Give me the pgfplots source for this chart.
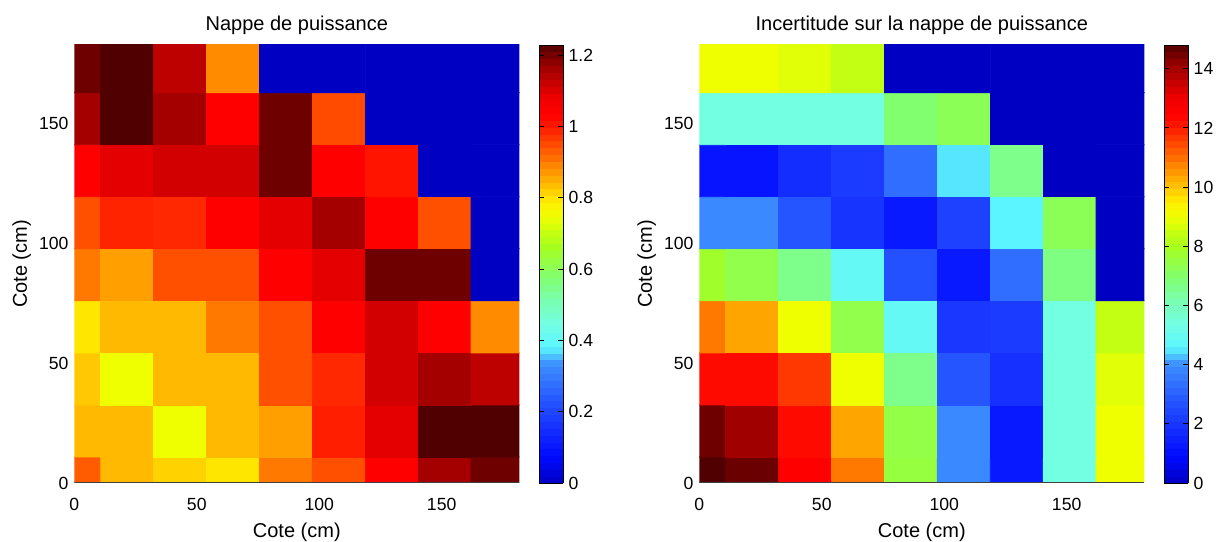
\documentclass[border=0pt]{standalone}
\usepackage{fontspec}
\setmainfont{Liberation Sans}
\usepackage{pgfplots}
\pgfplotsset{compat=1.18}
\usepackage{pgfplotstable}

\pgfplotstableread{
x y c
0 0 0.933
21.6 0 0.840
43.2 0 0.815
64.8 0 0.796
86.4 0 0.904
108 0 0.944
129.6 0 1.032
151.2 0 1.162
172.8 0 1.205
0 21.7 0.840
21.6 21.7 0.840
43.2 21.7 0.749
64.8 21.7 0.840
86.4 21.7 0.865
108 21.7 0.995
129.6 21.7 1.092
151.2 21.7 1.228
172.8 21.7 1.228
0 43.4 0.825
21.6 43.4 0.749
43.2 43.4 0.840
64.8 43.4 0.840
86.4 43.4 0.944
108 43.4 0.985
129.6 43.4 1.113
151.2 43.4 1.162
172.8 43.4 1.135
0 65.1 0.796
21.6 65.1 0.840
43.2 65.1 0.840
64.8 65.1 0.904
86.4 65.1 0.944
108 65.1 1.032
129.6 65.1 1.113
151.2 65.1 1.032
172.8 65.1 0.884
0 86.8 0.904
21.6 86.8 0.865
43.2 86.8 0.944
64.8 86.8 0.944
86.4 86.8 1.032
108 86.8 1.092
129.6 86.8 1.205
151.2 86.8 1.205
172.8 86.8 0
0 108.5 0.944
21.6 108.5 0.990
43.2 108.5 0.985
64.8 108.5 1.032
86.4 108.5 1.092
108 108.5 1.162
129.6 108.5 1.032
151.2 108.5 0.944
172.8 108.5 0
0 130.2 1.032
21.6 130.2 1.092
43.2 130.2 1.113
64.8 130.2 1.113
86.4 130.2 1.205
108 130.2 1.032
129.6 130.2 1.007
151.2 130.2 0
172.8 130.2 0
0 151.9 1.162
21.6 151.9 1.228
43.2 151.9 1.162
64.8 151.9 1.032
86.4 151.9 1.205
108 151.9 0.949
129.6 151.9 0
151.2 151.9 0
172.8 151.9 0
0 173.6 1.205
21.6 173.6 1.228
43.2 173.6 1.135
64.8 173.6 0.884
86.4 173.6 0
108 173.6 0
129.6 173.6 0
151.2 173.6 0
172.8 173.6 0
}\leftdata

\pgfplotstableread{
x y c
0 0 14.8
21.6 0 14.56
43.2 0 12.43
64.8 0 10.89
86.4 0 7.55
108 0 3.92
129.6 0 1.29
151.2 0 5.40
172.8 0 9.03
0 21.7 14.52
21.6 21.7 14.06
43.2 21.7 12.28
64.8 21.7 10.36
86.4 21.7 7.47
108 21.7 3.92
129.6 21.7 1.29
151.2 21.7 5.40
172.8 21.7 9.03
0 43.4 12.28
21.6 43.4 12.28
43.2 43.4 11.68
64.8 43.4 9.03
86.4 43.4 6.60
108 43.4 2.75
129.6 43.4 1.92
151.2 43.4 5.40
172.8 43.4 8.82
0 65.1 10.89
21.6 65.1 10.36
43.2 65.1 9.03
64.8 65.1 7.40
86.4 65.1 4.88
108 65.1 2.07
129.6 65.1 2.19
151.2 65.1 5.40
172.8 65.1 8.41
0 86.8 7.84
21.6 86.8 7.40
43.2 86.8 6.60
64.8 86.8 4.88
86.4 86.8 2.66
108 86.8 1.29
129.6 86.8 3.32
151.2 86.8 6.72
172.8 86.8 0
0 108.5 3.92
21.6 108.5 3.92
43.2 108.5 2.75
64.8 108.5 2.00
86.4 108.5 1.29
108 108.5 2.29
129.6 108.5 4.59
151.2 108.5 7.25
172.8 108.5 0
0 130.2 1.15
21.6 130.2 1.15
43.2 130.2 1.78
64.8 130.2 2.19
86.4 130.2 3.32
108 130.2 4.51
129.6 130.2 6.60
151.2 130.2 0
172.8 130.2 0
0 151.9 5.40
21.6 151.9 5.40
43.2 151.9 5.40
64.8 151.9 5.40
86.4 151.9 6.96
108 151.9 7.25
129.6 151.9 0
151.2 151.9 0
172.8 151.9 0
0 173.6 9.03
21.6 173.6 9.03
43.2 173.6 8.82
64.8 173.6 8.41
86.4 173.6 0
108 173.6 0
129.6 173.6 0
151.2 173.6 0
172.8 173.6 0
}\rightdata

\pgfplotsset{
  colormap={mlab}{rgb255(0pt)=(0,0,195) rgb255(6pt)=(0,10,255) rgb255(14pt)=(25,55,255) rgb255(27pt)=(60,140,255) rgb255(31pt)=(90,245,255) rgb255(36pt)=(115,255,230) rgb255(41pt)=(120,255,185) rgb255(47pt)=(130,255,110) rgb255(54pt)=(165,255,30) rgb255(61pt)=(240,255,0) rgb255(64pt)=(255,240,0) rgb255(68pt)=(255,190,0) rgb255(74pt)=(255,115,0) rgb255(81pt)=(255,30,0) rgb255(84pt)=(255,0,0) rgb255(88pt)=(240,0,0) rgb255(95pt)=(160,0,0) rgb255(100pt)=(80,0,0)},
  heat/.style={
    scale only axis, width=222.5bp, height=219bp, anchor=south west,
    xmin=0, xmax=181.7, ymin=0, ymax=182.6,
    xtick={0,50,100,150}, ytick={0,50,100,150},
    major tick length=0pt,
    axis line style={draw=none},
    /pgf/number format/assume math mode=true,
    tick label style={font=\fontsize{8.8bp}{10bp}\selectfont},
    xticklabel style={anchor=base, yshift=-13.5bp, inner sep=0pt},
    yticklabel style={anchor=east, inner sep=0pt, xshift=-2.7bp},
    xlabel={Cote (cm)}, ylabel={Cote (cm)},
    label style={font=\fontsize{10bp}{12bp}\selectfont, inner sep=0pt},
    xlabel style={at={(axis description cs:0.5,-0.1242)}, anchor=base},
    ylabel style={at={(axis description cs:-0.1065,0.5)}, anchor=base},
    every axis title shift=0pt,
    title style={at={(axis description cs:0.5,1.0342)}, anchor=base, inner sep=0pt, font=\fontsize{10bp}{12bp}\selectfont},
    colormap name=mlab,
    colorbar sampled,
  },
  cbar/.style={
    at={(parent axis.north east)}, anchor=north west, xshift=1.5bp,
    width=12bp, height=219bp, scale only axis,
    samples=65,
    ytick pos=both, yticklabel pos=right,
    tick align=inside, major tick length=2.5bp,
    tick style={black, line width=0.4pt},
    axis line style={black, line width=0.5pt},
    /pgf/number format/assume math mode=true,
    yticklabel style={anchor=west, inner sep=0pt, xshift=2.5bp, font=\fontsize{8.8bp}{10bp}\selectfont},
  },
}

\begin{document}
\begin{tikzpicture}
\useasboundingbox (0,0) rectangle (611.5bp,271bp);
\begin{axis}[heat, at={(37.15bp,29.5bp)},
  title={Nappe de puissance},
  point meta min=0, point meta max=1.228,
  colorbar style={cbar, ytick={0,0.2,0.4,0.6,0.8,1,1.2}},
]
\addplot[matrix plot*, mesh/cols=9, point meta=explicit] table[x=x, y=y, meta=c] {\leftdata};
\draw[black!75, line width=0.7bp] (rel axis cs:0,0) -- (rel axis cs:1,0);
\end{axis}
\begin{axis}[heat, at={(349.65bp,29.5bp)},
  title={Incertitude sur la nappe de puissance},
  point meta min=0, point meta max=14.8,
  colorbar style={cbar, ytick={0,2,4,6,8,10,12,14}},
]
\addplot[matrix plot*, mesh/cols=9, point meta=explicit] table[x=x, y=y, meta=c] {\rightdata};
\draw[black!75, line width=0.7bp] (rel axis cs:0,0) -- (rel axis cs:1,0);
\end{axis}
\end{tikzpicture}
\end{document}
